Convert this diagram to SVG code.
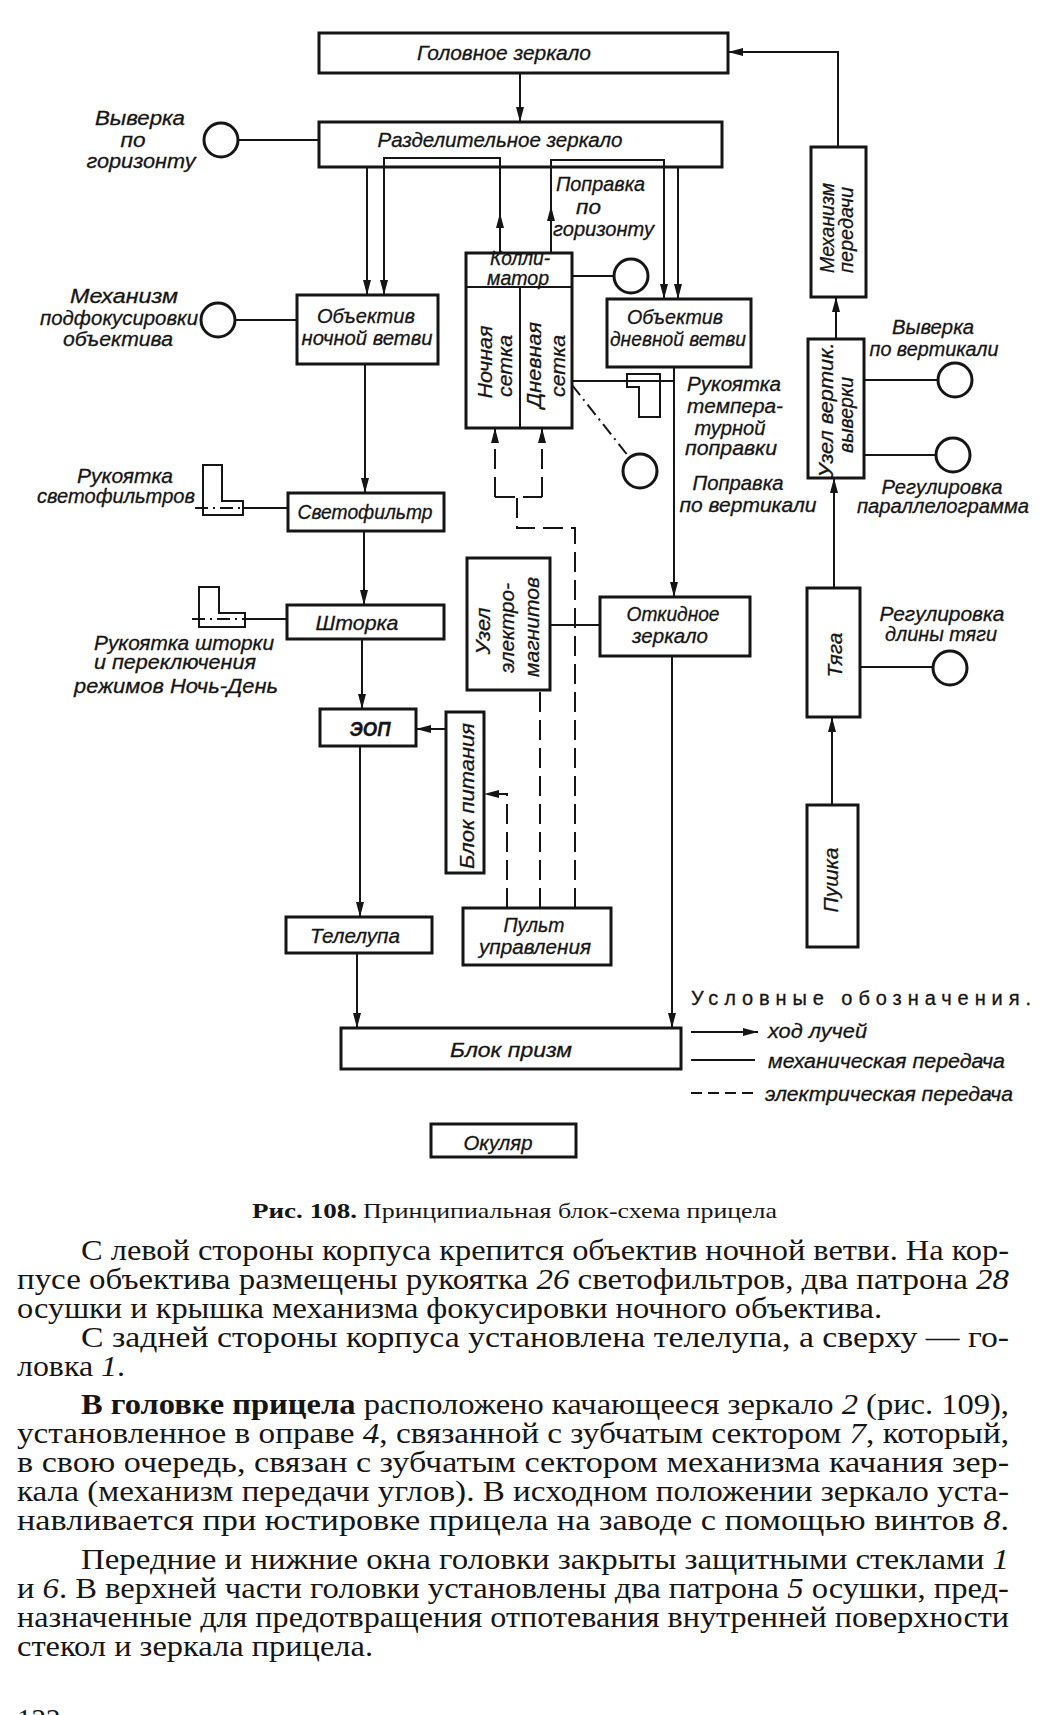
<svg xmlns="http://www.w3.org/2000/svg" width="1055" height="1715" viewBox="0 0 1055 1715">
<style>
.box{fill:none;stroke:#151515;stroke-width:3}
.ln{fill:none;stroke:#151515;stroke-width:2}
.dash{stroke-dasharray:20 8}
.dd{stroke-dasharray:13 5 2 5}
.t{font-family:"Liberation Sans","DejaVu Sans",sans-serif;font-style:italic;font-size:20px;fill:#151515;stroke:#151515;stroke-width:0.3}
.c{text-anchor:middle}
.b{font-family:"Liberation Serif","DejaVu Serif",serif;font-size:29px;fill:#151515}
.cap{font-family:"Liberation Serif","DejaVu Serif",serif;font-size:21px;fill:#151515}
.i{font-style:italic}
.bd{font-weight:bold}
</style>
<defs>
<marker id="ar" markerUnits="userSpaceOnUse" markerWidth="15" markerHeight="8" refX="15" refY="4" orient="auto">
<path d="M0,0 L15,4 L0,8 Z" fill="#151515"/>
</marker>
</defs>
<rect width="1055" height="1715" fill="#fff"/>

<g id="connectors">
<path class="ln" d="M520,73 V122" marker-end="url(#ar)"/>
<path class="ln" d="M838,147 V52 H728" marker-end="url(#ar)"/>
<path class="ln" d="M836,339 V297" marker-end="url(#ar)"/>
<path class="ln" d="M834,588 V478" marker-end="url(#ar)"/>
<path class="ln" d="M832,805 V717" marker-end="url(#ar)"/>
<path class="ln" d="M367,167 V295" marker-end="url(#ar)"/>
<path class="ln" d="M500,253 V213" marker-end="url(#ar)"/>
<path class="ln" d="M500,215 V158 H384 V295" marker-end="url(#ar)"/>
<path class="ln" d="M551,253 V206" marker-end="url(#ar)"/>
<path class="ln" d="M551,208 V160 H664 V299" marker-end="url(#ar)"/>
<path class="ln" d="M678,167 V299" marker-end="url(#ar)"/>
<path class="ln" d="M365,364 V493" marker-end="url(#ar)"/>
<path class="ln" d="M364,531 V605" marker-end="url(#ar)"/>
<path class="ln" d="M362,639 V709" marker-end="url(#ar)"/>
<path class="ln" d="M360,746 V917" marker-end="url(#ar)"/>
<path class="ln" d="M357,953 V1028" marker-end="url(#ar)"/>
<path class="ln" d="M674,367 V597" marker-end="url(#ar)"/>
<path class="ln" d="M672,656 V1028" marker-end="url(#ar)"/>
<path class="ln" d="M446,729 H416" marker-end="url(#ar)"/>
<path class="ln dash" d="M507,908 V794 H484" marker-end="url(#ar)"/>
<path class="ln dash" d="M540,908 V690"/>
<path class="ln dash" d="M575,908 V528 H517 V497"/>
<path class="ln dash" d="M495,497 H542"/>
<path class="ln dash" d="M495,497 V428" marker-end="url(#ar)"/>
<path class="ln dash" d="M542,497 V428" marker-end="url(#ar)"/>
<path class="ln" d="M550,625 H600"/>
<path class="ln" d="M238,140 H319"/>
<path class="ln" d="M235,320 H297"/>
<path class="ln" d="M572,276 H614"/>
<path class="ln dd" d="M572,385 L629,457"/>
<path class="ln" d="M572,381 H674"/>
<path class="ln" d="M864,380 H938"/>
<path class="ln" d="M864,455 H936"/>
<path class="ln" d="M860,667 H933"/>
<path class="ln dd" d="M195,508 H243"/>
<path class="ln" d="M243,508 H288"/>
<path class="ln dd" d="M192,619 H245"/>
<path class="ln" d="M245,619 H287"/>
</g>

<g id="n-golovnoe"><rect class="box" x="319" y="33" width="409" height="40"/><text class="t c" x="504" y="60" textLength="174" lengthAdjust="spacingAndGlyphs">Головное зеркало</text></g>
<g id="n-razdel"><rect class="box" x="319" y="122" width="403" height="45"/><text class="t c" x="500" y="147" textLength="245" lengthAdjust="spacingAndGlyphs">Разделительное зеркало</text></g>
<g id="n-kollimator"><rect class="box" x="466" y="253" width="106" height="175"/><path class="ln" d="M466,287 H572 M520,287 V428"/>
<text class="t c" x="520" y="265" font-size="14" textLength="60" lengthAdjust="spacingAndGlyphs">Колли-</text><text class="t c" x="518" y="285" font-size="14" textLength="62" lengthAdjust="spacingAndGlyphs">матор</text>
<text class="t c" transform="translate(492,362) rotate(-90)" textLength="73" lengthAdjust="spacingAndGlyphs">Ночная</text>
<text class="t c" transform="translate(512,366) rotate(-90)" textLength="62" lengthAdjust="spacingAndGlyphs">сетка</text>
<text class="t c" transform="translate(541,365) rotate(-90)" textLength="86" lengthAdjust="spacingAndGlyphs">Дневная</text>
<text class="t c" transform="translate(565,366) rotate(-90)" textLength="62" lengthAdjust="spacingAndGlyphs">сетка</text></g>
<g id="n-obj-night"><rect class="box" x="297" y="295" width="141" height="69"/><text class="t c" x="366" y="323" textLength="98" lengthAdjust="spacingAndGlyphs">Объектив</text><text class="t c" x="367" y="345" textLength="131" lengthAdjust="spacingAndGlyphs">ночной ветви</text></g>
<g id="n-obj-day"><rect class="box" x="607" y="299" width="144" height="68"/><text class="t c" x="675" y="324" textLength="96" lengthAdjust="spacingAndGlyphs">Объектив</text><text class="t c" x="678" y="346" textLength="136" lengthAdjust="spacingAndGlyphs">дневной ветви</text></g>
<g id="n-svetofiltr"><rect class="box" x="288" y="493" width="156" height="38"/><text class="t c" x="365" y="519" textLength="135" lengthAdjust="spacingAndGlyphs">Светофильтр</text></g>
<g id="n-shtorka"><rect class="box" x="287" y="605" width="157" height="34"/><text class="t c" x="357" y="630" textLength="83" lengthAdjust="spacingAndGlyphs">Шторка</text></g>
<g id="n-eop"><rect class="box" x="320" y="709" width="96" height="37"/><text class="t c bd" x="370" y="736" textLength="41" lengthAdjust="spacingAndGlyphs">ЭОП</text></g>
<g id="n-blok-pit"><rect class="box" x="446" y="712" width="38" height="161"/><text class="t c" transform="translate(474,796) rotate(-90)" textLength="146" lengthAdjust="spacingAndGlyphs">Блок питания</text></g>
<g id="n-telelupa"><rect class="box" x="286" y="917" width="146" height="36"/><text class="t c" x="355" y="943" textLength="90" lengthAdjust="spacingAndGlyphs">Телелупа</text></g>
<g id="n-uzel-em"><rect class="box" x="467" y="558" width="83" height="132"/>
<text class="t c" transform="translate(490,631) rotate(-90)" textLength="47" lengthAdjust="spacingAndGlyphs">Узел</text>
<text class="t c" transform="translate(514,628) rotate(-90)" textLength="90" lengthAdjust="spacingAndGlyphs">электро-</text>
<text class="t c" transform="translate(539,627) rotate(-90)" textLength="100" lengthAdjust="spacingAndGlyphs">магнитов</text></g>
<g id="n-pult"><rect class="box" x="463" y="908" width="148" height="57"/><text class="t c" x="534" y="932" textLength="61" lengthAdjust="spacingAndGlyphs">Пульт</text><text class="t c" x="535" y="954" textLength="112" lengthAdjust="spacingAndGlyphs">управления</text></g>
<g id="n-otkidnoe"><rect class="box" x="600" y="597" width="150" height="59"/><text class="t c" x="673" y="621" textLength="93" lengthAdjust="spacingAndGlyphs">Откидное</text><text class="t c" x="670" y="643" textLength="76" lengthAdjust="spacingAndGlyphs">зеркало</text></g>
<g id="n-blok-prizm"><rect class="box" x="341" y="1028" width="340" height="41"/><text class="t c" x="511" y="1057" textLength="122" lengthAdjust="spacingAndGlyphs">Блок призм</text></g>
<g id="n-okulyar"><rect class="box" x="431" y="1124" width="145" height="33"/><text class="t c" x="498" y="1150" textLength="69" lengthAdjust="spacingAndGlyphs">Окуляр</text></g>
<g id="n-mekh-pered"><rect class="box" x="811" y="147" width="55" height="150"/>
<text class="t c" transform="translate(834,228) rotate(-90)" textLength="90" lengthAdjust="spacingAndGlyphs">Механизм</text>
<text class="t c" transform="translate(853,230) rotate(-90)" textLength="86" lengthAdjust="spacingAndGlyphs">передачи</text></g>
<g id="n-uzel-vert"><rect class="box" x="808" y="339" width="56" height="139"/>
<text class="t c" transform="translate(833,410) rotate(-90)" textLength="135" lengthAdjust="spacingAndGlyphs">Узел вертик.</text>
<text class="t c" transform="translate(853,415) rotate(-90)" textLength="76" lengthAdjust="spacingAndGlyphs">выверки</text></g>
<g id="n-tyaga"><rect class="box" x="807" y="588" width="53" height="129"/><text class="t c" transform="translate(842,655) rotate(-90)" textLength="45" lengthAdjust="spacingAndGlyphs">Тяга</text></g>
<g id="n-pushka"><rect class="box" x="807" y="805" width="51" height="142"/><text class="t c" transform="translate(838,880) rotate(-90)" textLength="65" lengthAdjust="spacingAndGlyphs">Пушка</text></g>

<g id="n-vyverka-gor"><circle class="box" cx="221" cy="140" r="17"/>
<text class="t c" x="140" y="125" textLength="90" lengthAdjust="spacingAndGlyphs">Выверка</text><text class="t c" x="133" y="147" textLength="25" lengthAdjust="spacingAndGlyphs">по</text><text class="t c" x="141" y="168" textLength="109" lengthAdjust="spacingAndGlyphs">горизонту</text></g>
<g id="n-podfok"><circle class="box" cx="218" cy="320" r="17"/>
<text class="t c" x="124" y="303" textLength="108" lengthAdjust="spacingAndGlyphs">Механизм</text><text class="t c" x="119" y="325" textLength="158" lengthAdjust="spacingAndGlyphs">подфокусировки</text><text class="t c" x="118" y="346" textLength="110" lengthAdjust="spacingAndGlyphs">объектива</text></g>
<g id="n-ruk-svet"><path class="ln" d="M203,465 H222 V501 H243 V515 H203 Z"/>
<text class="t c" x="125" y="483" textLength="96" lengthAdjust="spacingAndGlyphs">Рукоятка</text><text class="t c" x="116" y="503" textLength="158" lengthAdjust="spacingAndGlyphs">светофильтров</text></g>
<g id="n-ruk-shtorki"><path class="ln" d="M199,587 H219 V613 H245 V627 H199 Z"/>
<text class="t" x="94" y="650" textLength="180" lengthAdjust="spacingAndGlyphs">Рукоятка шторки</text><text class="t" x="94" y="669" textLength="162" lengthAdjust="spacingAndGlyphs">и переключения</text><text class="t" x="74" y="693" textLength="204" lengthAdjust="spacingAndGlyphs">режимов Ночь-День</text></g>
<g id="n-kollim-circle"><circle class="box" cx="631" cy="276" r="17"/></g>
<g id="n-popr-gor"><text class="t" x="556" y="191" textLength="89" lengthAdjust="spacingAndGlyphs">Поправка</text><text class="t" x="576" y="214" textLength="25" lengthAdjust="spacingAndGlyphs">по</text><text class="t" x="553" y="236" textLength="101" lengthAdjust="spacingAndGlyphs">горизонту</text></g>
<g id="n-ruk-temp"><path class="ln" d="M627,374 H660 V417 H639 V387 H627 Z"/>
<text class="t c" x="734" y="391" textLength="94" lengthAdjust="spacingAndGlyphs">Рукоятка</text><text class="t c" x="735" y="413" textLength="96" lengthAdjust="spacingAndGlyphs">темпера-</text><text class="t c" x="730" y="435" textLength="71" lengthAdjust="spacingAndGlyphs">турной</text><text class="t c" x="731" y="455" textLength="92" lengthAdjust="spacingAndGlyphs">поправки</text></g>
<g id="n-popr-vert"><circle class="box" cx="640" cy="471" r="17"/>
<text class="t c" x="738" y="490" textLength="91" lengthAdjust="spacingAndGlyphs">Поправка</text><text class="t c" x="748" y="512" textLength="137" lengthAdjust="spacingAndGlyphs">по вертикали</text></g>
<g id="n-vyverka-vert"><circle class="box" cx="955" cy="380" r="17"/>
<text class="t c" x="933" y="334" textLength="82" lengthAdjust="spacingAndGlyphs">Выверка</text><text class="t c" x="934" y="356" textLength="129" lengthAdjust="spacingAndGlyphs">по вертикали</text></g>
<g id="n-reg-par"><circle class="box" cx="953" cy="455" r="17"/>
<text class="t c" x="942" y="494" textLength="121" lengthAdjust="spacingAndGlyphs">Регулировка</text><text class="t c" x="943" y="513" textLength="172" lengthAdjust="spacingAndGlyphs">параллелограмма</text></g>
<g id="n-reg-tyagi"><circle class="box" cx="950" cy="668" r="17"/>
<text class="t c" x="942" y="621" textLength="125" lengthAdjust="spacingAndGlyphs">Регулировка</text><text class="t c" x="941" y="641" textLength="112" lengthAdjust="spacingAndGlyphs">длины тяги</text></g>

<g id="legend">
<text class="t" x="691" y="1005" font-size="22" textLength="340" style="font-style:normal">Условные обозначения.</text>
<path class="ln" d="M691,1032 H758" marker-end="url(#ar)"/>
<text class="t" x="768" y="1038" textLength="99" lengthAdjust="spacingAndGlyphs">ход лучей</text>
<path class="ln" d="M691,1060 H755"/>
<text class="t" x="768" y="1068" textLength="237" lengthAdjust="spacingAndGlyphs">механическая передача</text>
<path class="ln" d="M691,1093 H755" style="stroke-dasharray:11 6"/>
<text class="t" x="765" y="1101" textLength="248" lengthAdjust="spacingAndGlyphs">электрическая передача</text>
</g>

<g id="caption">
<text class="cap bd" x="252" y="1218" textLength="105" lengthAdjust="spacingAndGlyphs">Рис. 108.</text>
<text class="cap" x="363" y="1218" textLength="414" lengthAdjust="spacingAndGlyphs">Принципиальная блок-схема прицела</text>
</g>

<g id="body">
<text class="b" x="81" y="1260" textLength="928" lengthAdjust="spacingAndGlyphs">С левой стороны корпуса крепится объектив ночной ветви. На кор-</text>
<text class="b" x="17" y="1289" textLength="992" lengthAdjust="spacingAndGlyphs">пусе объектива размещены рукоятка <tspan class="i">26</tspan> светофильтров, два патрона <tspan class="i">28</tspan></text>
<text class="b" x="17" y="1318" textLength="865" lengthAdjust="spacingAndGlyphs">осушки и крышка механизма фокусировки ночного объектива.</text>
<text class="b" x="81" y="1347" textLength="928" lengthAdjust="spacingAndGlyphs">С задней стороны корпуса установлена телелупа, а сверху — го-</text>
<text class="b" x="17" y="1376" textLength="108" lengthAdjust="spacingAndGlyphs">ловка <tspan class="i">1</tspan>.</text>
<text class="b" x="81" y="1414" textLength="928" lengthAdjust="spacingAndGlyphs"><tspan class="bd">В головке прицела</tspan> расположено качающееся зеркало <tspan class="i">2</tspan> (рис. 109),</text>
<text class="b" x="17" y="1443" textLength="992" lengthAdjust="spacingAndGlyphs">установленное в оправе <tspan class="i">4</tspan>, связанной с зубчатым сектором <tspan class="i">7</tspan>, который,</text>
<text class="b" x="17" y="1472" textLength="992" lengthAdjust="spacingAndGlyphs">в свою очередь, связан с зубчатым сектором механизма качания зер-</text>
<text class="b" x="17" y="1501" textLength="992" lengthAdjust="spacingAndGlyphs">кала (механизм передачи углов). В исходном положении зеркало уста-</text>
<text class="b" x="17" y="1530" textLength="992" lengthAdjust="spacingAndGlyphs">навливается при юстировке прицела на заводе с помощью винтов <tspan class="i">8</tspan>.</text>
<text class="b" x="81" y="1569" textLength="928" lengthAdjust="spacingAndGlyphs">Передние и нижние окна головки закрыты защитными стеклами <tspan class="i">1</tspan></text>
<text class="b" x="17" y="1598" textLength="992" lengthAdjust="spacingAndGlyphs">и <tspan class="i">6</tspan>. В верхней части головки установлены два патрона <tspan class="i">5</tspan> осушки, пред-</text>
<text class="b" x="17" y="1627" textLength="992" lengthAdjust="spacingAndGlyphs">назначенные для предотвращения отпотевания внутренней поверхности</text>
<text class="b" x="17" y="1656" textLength="356" lengthAdjust="spacingAndGlyphs">стекол и зеркала прицела.</text>
<text class="b" x="17" y="1729">122</text>
</g>
</svg>
